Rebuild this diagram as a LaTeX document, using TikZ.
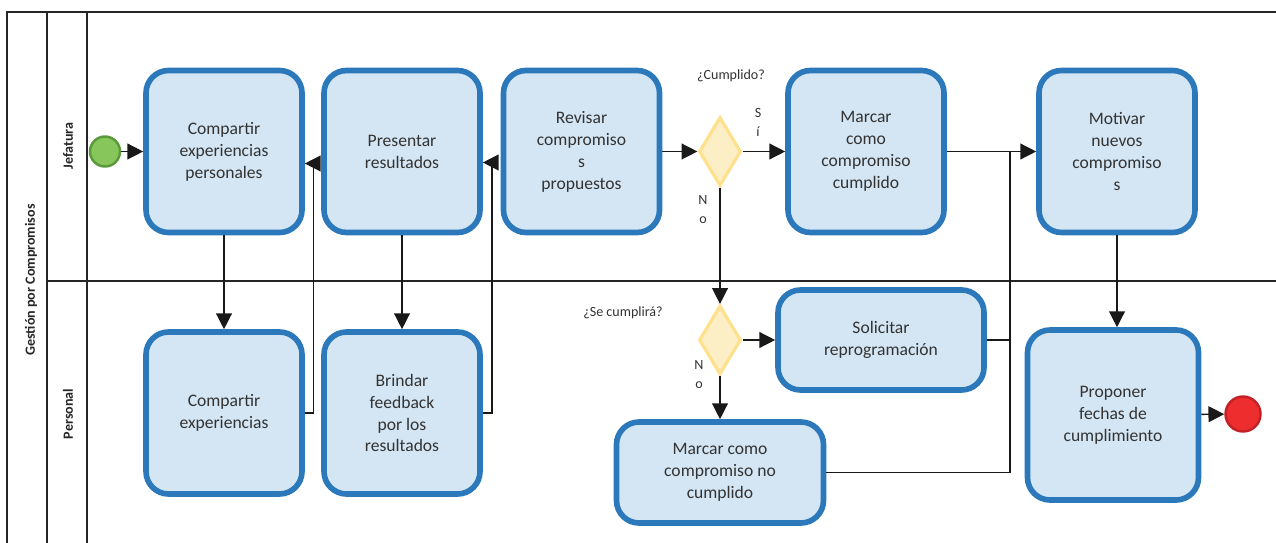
\documentclass[tikz,border=0pt]{standalone}
\usepackage{fontspec}
\setmainfont{Carlito}
\usepackage{tikz}
\usetikzlibrary{arrows.meta,positioning,shapes.geometric}
\usepackage{xcolor}
\definecolor{tareaborde}{HTML}{2B78BA}
\definecolor{tareafondo}{HTML}{D4E6F4}
\definecolor{decborde}{HTML}{FFE08C}
\definecolor{decfondo}{HTML}{FDEFC5}
\definecolor{texto}{HTML}{333333}
\definecolor{inicioborde}{HTML}{5A9A3A}
\definecolor{iniciofondo}{HTML}{86C65B}
\definecolor{finborde}{HTML}{C42127}
\definecolor{finfondo}{HTML}{EE2E2E}

\begin{document}
\begin{tikzpicture}[
	font=\fontsize{10}{12.5}\selectfont,
	tarea/.style={rectangle,rounded corners=0.45cm,draw=tareaborde,fill=tareafondo,line width=3.2pt,minimum width=3.12cm,minimum height=3.24cm,align=center,text=texto,inner sep=2pt},
	decision/.style={diamond,draw=decborde,fill=decfondo,line width=1.8pt,minimum width=0.84cm,minimum height=1.38cm,inner sep=0pt},
	evento/.style={circle,line width=1.4pt,inner sep=0pt},
	etiqueta/.style={font=\fontsize{8}{10.8}\selectfont,text=texto,align=center},
	carril/.style={font=\fontsize{8}{9}\selectfont\bfseries,text=black!85,rotate=90},
	flujo/.style={draw=black!90,line width=0.8pt,-{Triangle[length=9pt,width=9pt]}},
	linea/.style={draw=black!90,line width=0.8pt}]
	\useasboundingbox (0,0) rectangle (25.52,-10.86);
	\begin{scope}[line width=1.4pt,draw=black!85]
		\draw (0.14,-11) -- (0.14,-0.24) -- (25.7,-0.24);
		\draw (0.94,-11) -- (0.94,-0.24);
		\draw (1.74,-11) -- (1.74,-0.24);
		\draw (0.94,-5.62) -- (25.7,-5.62);
	\end{scope}
	\node[carril] (pool) at (0.62,-5.6) {Gestión por Compromisos};
	\node[carril] (jefatura) at (1.36,-2.92) {Jefatura};
	\node[carril] (personal) at (1.36,-8.28) {Personal};

	\begin{scope}[every node/.style={tarea}]
		\node (cep) at (4.48,-3.03) {Compartir\\experiencias\\personales};
		\node (pr) at (8.04,-3.03) {Presentar\\resultados};
		\node (rc) at (11.63,-3.03) {Revisar\\compromiso\\s\\propuestos};
		\node (mc) at (17.32,-3.03) {Marcar\\como\\compromiso\\cumplido};
		\node (mn) at (22.34,-3.03) {Motivar\\nuevos\\compromiso\\s};
		\node (ce) at (4.48,-8.26) {Compartir\\experiencias};
		\node (bf) at (8.04,-8.26) {Brindar\\feedback\\por los\\resultados};
		\node[minimum width=4.12cm,minimum height=2.0cm] (sr) at (17.62,-6.80) {Solicitar\\reprogramación};
		\node[minimum width=4.14cm,minimum height=2.02cm] (mnc) at (14.40,-9.45) {Marcar como\\compromiso no\\cumplido};
		\node[minimum width=3.42cm,minimum height=3.40cm] (pf) at (22.26,-8.30) {Proponer\\fechas de\\cumplimiento};
	\end{scope}

	\node[decision] (d1) at (14.40,-3.03) {};
	\node[decision] (d2) at (14.40,-6.80) {};
	\node[evento,draw=inicioborde,fill=iniciofondo,minimum size=0.60cm] (inicio) at (2.10,-3.03) {};
	\node[evento,draw=finborde,fill=finfondo,minimum size=0.70cm] (fin) at (24.86,-8.28) {};

	\node[etiqueta] (cumplido) at (14.62,-1.52) {¿Cumplido?};
	\node[etiqueta] (si) at (15.16,-2.45) {S\\í};
	\node[etiqueta] (no1) at (14.06,-4.20) {N\\o};
	\node[etiqueta] (secumplira) at (12.46,-6.26) {¿Se cumplirá?};
	\node[etiqueta] (no2) at (13.98,-7.49) {N\\o};

	\coordinate (union) at (20.20,-3.03);

	\begin{scope}
	\draw[flujo] (inicio) -- (cep);
	\draw[flujo] (cep) -- (ce);
	\draw[flujo] (ce.east) -- ++(0.17,0) |- ([yshift=-0.24cm]cep.east);
	\draw[flujo] (pr) -- (bf);
	\draw[flujo] (bf.east) -- ++(0.18,0) |- ([yshift=-0.22cm]pr.east);
	\draw[flujo] (rc) -- (d1);
	\draw[flujo] (d1) -- (mc);
	\draw[flujo] (d1) -- (d2);
	\draw[flujo] (d2) -- (sr);
	\draw[flujo] (d2) -- (mnc);
	\draw[flujo] (mc) -- (mn);
	\draw[linea] (sr.east) -| (union);
	\draw[linea] (mnc.east) -| (union);
	\draw[flujo] (mn.south) -- (mn.south|-pf.north);
	\draw[flujo] (pf) -- (fin);
	\end{scope}
\end{tikzpicture}
\end{document}
